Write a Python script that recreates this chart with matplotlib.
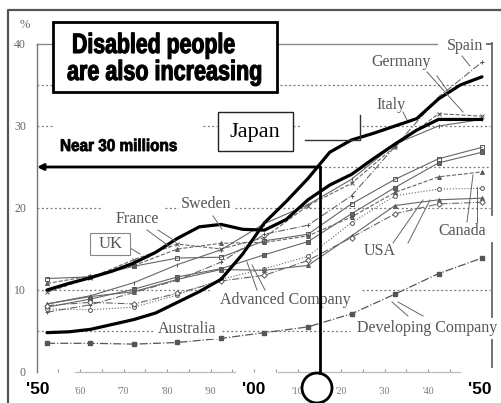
import numpy as np
import matplotlib.pyplot as plt
from matplotlib.patches import Rectangle, Ellipse, PathPatch
from matplotlib.lines import Line2D
from matplotlib.textpath import TextPath
from matplotlib.font_manager import FontProperties
from matplotlib.transforms import Affine2D

# share of elderly in population (%)
years5 = list(range(1950, 2051, 5))
years10 = list(range(1950, 2051, 10))

japan = [4.8, 4.9, 5.2, 5.8, 6.4, 7.2, 8.5, 9.8, 11.3, 14.4, 18.2,
         20.8, 23.6, 26.8, 28.3, 29.1, 30.0, 30.9, 33.3, 35.0, 36.0]
sweden = [10.0, 10.8, 11.5, 12.3, 13.3, 14.6, 16.3, 17.7, 18.0, 17.4, 17.3,
          18.6, 21.0, 22.8, 24.1, 26.0, 27.8, 29.5, 30.8, 30.8, 30.8]

spain = [7.3, 8.2, 9.7, 11.2, 13.4, 16.8, 17.9, 21.5, 27.5, 33.5, 37.8]
italy = [8.3, 9.3, 10.9, 13.1, 14.9, 18.1, 20.4, 23.5, 27.8, 30.0, 30.8]
germany = [9.7, 11.5, 13.7, 15.6, 15.0, 16.4, 20.3, 23.0, 27.5, 31.5, 31.2]
france = [11.4, 11.6, 12.9, 13.9, 14.0, 16.0, 16.8, 20.5, 23.5, 26.0, 27.4]
uk = [10.8, 11.7, 13.0, 15.0, 15.7, 15.8, 16.6, 18.9, 21.9, 23.8, 24.4]
advanced = [7.9, 8.9, 10.1, 11.6, 12.6, 14.3, 15.9, 19.3, 22.5, 25.5, 26.8]
canada = [7.7, 7.6, 7.9, 9.4, 11.3, 12.6, 14.1, 18.2, 21.5, 22.3, 22.4]
usa = [8.3, 9.2, 9.8, 11.3, 12.5, 12.4, 13.0, 16.6, 20.3, 21.0, 21.2]
australia = [8.1, 8.5, 8.3, 9.6, 11.1, 11.8, 13.6, 16.4, 19.3, 20.5, 20.7]
developing = [3.5, 3.5, 3.4, 3.6, 4.1, 4.8, 5.5, 7.1, 9.5, 12.0, 13.9]

ytick_vals = [0, 10, 20, 30, 40]
xtick_years = list(range(1955, 2050, 5))
xtick_text = {1960: "'60", 1970: "'70", 1980: "'80", 1990: "'90",
              2010: "'10", 2020: "'20", 2030: "'30", 2040: "'40"}

W, H = 502, 403


def px(x, y=372):
    # picture pixel -> data coords
    return 1950 + (x - 47) / 4.35, (372 - y) / 8.2


fig = plt.figure(figsize=(W / 100, H / 100), dpi=100)
ax = fig.add_axes([37 / W, 31 / H, 455 / W, 342 / H])
ax.set_xlim(px(37)[0], px(492)[0])
ax.set_ylim(0, 342 / 8.2)

for s in ['top', 'right', 'bottom']:
    ax.spines[s].set_visible(False)
ax.spines['left'].set_bounds(0, 40)
ax.spines['left'].set_color('#777')
ax.spines['left'].set_linewidth(1)

serif = ['Liberation Serif', 'DejaVu Serif']
sans = ['Liberation Sans', 'DejaVu Sans']
gray = '#555'

ax.set_yticks(ytick_vals)
ax.set_yticklabels([str(v) for v in ytick_vals], family=serif, fontsize=8.5, color='#666')
ax.tick_params(axis='y', length=0, pad=8)

# the source axis sits a bit left of the data years
shift = -2.4
ax.set_xticks([y + shift for y in xtick_years])
ax.set_xticklabels([xtick_text.get(y, '') for y in xtick_years], family=serif, fontsize=7, color='#777')
ax.tick_params(axis='x', direction='in', length=2, color='#999', pad=11)

# gridlines (dotted, broken where the labels sit)
grid = {35: [(37, 52), (280, 490)],
        30: [(37, 52), (203, 217), (293, 300), (362, 490)],
        25: [(320, 490)],
        20: [(37, 100), (165, 490)],
        10: [(37, 210), (362, 490)],
        5: [(37, 155), (222, 350)]}
for v, segs in grid.items():
    for a, b in segs:
        ax.plot([px(a)[0], px(b)[0]], [v, v], color='#777', lw=0.9,
                ls=(0, (1.5, 2)), zorder=1)

# frame: top line at 40, right side, bottom axis
ax.plot([px(37)[0], px(437)[0]], [40, 40], color='#888', lw=1, clip_on=False)
ax.plot([px(487)[0], px(492)[0]], [40, 40], color='#666', lw=1.3, clip_on=False)
xr = px(491.5)[0]
for a, b in [(43, 215), (243, 317), (340, 367)]:
    ax.plot([xr, xr], [px(0, a)[1], px(0, b)[1]], color='#666', lw=1.3, clip_on=False)
for a, b in [(75, 235), (278, 460)]:
    ax.plot([px(a)[0], px(b)[0]], [0, 0], color='#bbb', lw=0.9, clip_on=False)

# thin country lines
thin = [(spain, '-.', '+', '#666'), (italy, '-', '|', '#666'),
        (germany, '--', 'x', '#666'), (france, '-', 's', 'none'),
        (uk, '--', '^', '#666'), (advanced, '-', 's', '#666'),
        (canada, ':', 'o', 'white'), (usa, '-', '^', '#666'),
        (australia, '-.', 'D', 'white')]
for vals, ls, mk, mfc in thin:
    ax.plot(years10, vals, color='#666', lw=0.8, ls=ls, marker=mk, ms=2.8,
            mfc=mfc, mec='#555', mew=0.7, zorder=2)
ax.plot(years10, developing, color='#555', lw=0.9, ls='-.', marker='s', ms=2.5, zorder=2)

# thick lines
ax.plot(years5, sweden, color='black', lw=2.3, solid_capstyle='round', zorder=3)
ax.plot(years5, japan, color='black', lw=2.3, solid_capstyle='round', zorder=3)

# country labels
labels = [('Spain', 465, 46), ('Germany', 401, 62), ('Italy', 391, 105),
          ('Sweden', 206, 204), ('France', 137, 219), ('Advanced Company', 285, 300),
          ('Australia', 187, 329), ('Developing Company', 427, 328),
          ('USA', 380, 251), ('Canada', 462, 231)]
for txt, x, y in labels:
    ax.text(*px(x, y), txt, ha='center', va='center', family=serif, fontsize=11.5,
            color=gray, zorder=4, clip_on=False,
            bbox=dict(boxstyle='square,pad=0.1', fc='white', ec='none'))

leaders = [((462, 56), (470, 66)), ((427, 72), (463, 112)), ((437, 76), (447, 90)),
           ((403, 112), (407, 120)), ((213, 216), (222, 229)),
           ((147, 230), (170, 247)), ((158, 230), (175, 241)),
           ((130, 248), (140, 254)), ((257, 290), (247, 262)), ((265, 290), (252, 265)),
           ((393, 243), (423, 200)), ((408, 243), (430, 200)),
           ((467, 222), (473, 175)), ((477, 222), (477, 187)),
           ((392, 302), (408, 316)), ((398, 302), (423, 316))]
for p0, p1 in leaders:
    a, b = px(*p0), px(*p1)
    ax.plot([a[0], b[0]], [a[1], b[1]], color='#666', lw=0.7, zorder=4)

# UK box
x0, y0 = px(90, 255)
ax.add_patch(Rectangle((x0, y0), 40 / 4.35, 22 / 8.2, fc='white', ec='#888', lw=0.8, zorder=4))
ax.text(*px(111, 244), 'UK', ha='center', va='center', family=serif, fontsize=12,
        color=gray, zorder=5)

# Japan box and its bracket
x0, y0 = px(218, 151)
ax.add_patch(Rectangle((x0, y0), 75 / 4.35, 39 / 8.2, fc='white', ec='#222', lw=1, zorder=5))
ax.text(*px(255, 132), 'Japan', ha='center', va='center', family=serif, fontsize=16,
        color='black', zorder=6)
xa, ya = px(305, 140)
xb, yb = px(360, 115)
ax.plot([xa, xb, xb], [ya, ya, yb], color='#333', lw=1, zorder=5)

# title box with condensed heavy lettering
x0, y0 = px(53, 92)
ax.add_patch(Rectangle((x0, y0), 224 / 4.35, 70 / 8.2, fc='white', ec='black', lw=2,
                       zorder=6, clip_on=False))
bold = FontProperties(family='Liberation Sans', weight='bold')


def squeezed(txt, x, base, size, sx, stroke):
    path = TextPath((0, 0), txt, size=size, prop=bold)
    tr = Affine2D().scale(sx, 1).translate(x, H - base)
    fig.add_artist(PathPatch(path, transform=tr, fc='black', ec='black', lw=stroke, zorder=8))


squeezed('Disabled people', 72, 53, 28, 0.76, 0.8)
squeezed('are also increasing', 67, 80, 28, 0.77, 0.8)
squeezed('Near 30 millions', 60, 151, 17, 0.9, 0.6)

# near 30 millions arrow, drop line and circle
ax.annotate('', xy=px(37, 167), xytext=px(320, 167),
            arrowprops=dict(arrowstyle='-|>', color='black', lw=2, mutation_scale=9,
                            shrinkA=0, shrinkB=0), zorder=7)
xv = px(320)[0]
ax.plot([xv, xv], [25, px(0, 373)[1]], color='black', lw=2, zorder=7, clip_on=False)
ax.add_patch(Ellipse(px(317, 388), 30 / 4.35, 30 / 8.2, fill=False, ec='black', lw=2,
                     zorder=7, clip_on=False))

# bold decade marks and % sign
for t, x in [("'50", 38), ("'00", 254), ("'50", 480)]:
    ax.text(*px(x, 389), t, ha='center', va='center', fontsize=12.5, fontweight='bold',
            family=sans, clip_on=False)
ax.text(*px(25, 25), '%', ha='center', va='center', family=serif, fontsize=9,
        color='#666', clip_on=False)

fig.add_artist(Line2D([8 / W, 8 / W, 1], [0, 1 - 10 / H, 1 - 10 / H],
                      transform=fig.transFigure, color='#555', lw=1.6))

fig.savefig('out.png', dpi=100)
